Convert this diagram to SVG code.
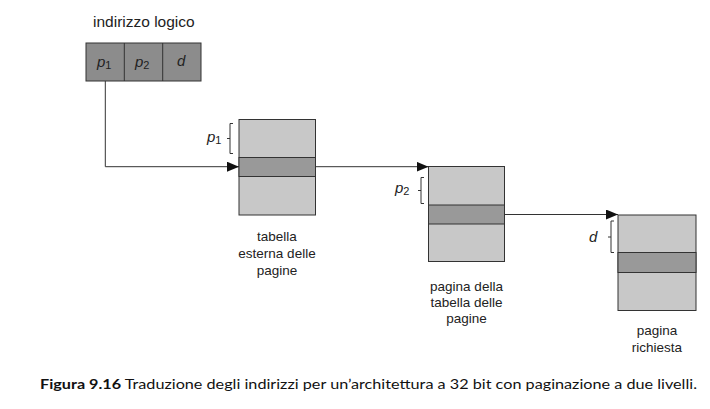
<svg xmlns="http://www.w3.org/2000/svg" width="710" height="409" viewBox="0 0 710 409">
<defs>
<style>
.lbl{font-family:"Liberation Sans",Arial,sans-serif;font-size:13.5px;fill:#222}
.it{font-family:"Liberation Sans",Arial,sans-serif;font-size:15px;font-style:italic;fill:#222}
.sub{font-size:11px;font-style:normal}
.light{fill:#c8c8c8;stroke:#333;stroke-width:1}
.band{fill:#999;stroke:#333;stroke-width:1}
.addr{fill:#8c8c8c;stroke:#333;stroke-width:1}
.ln{fill:none;stroke:#333;stroke-width:1}
.cap{font-family:"Lato","Open Sans",sans-serif;font-size:14px;fill:#111}
</style>
<marker id="ah" markerWidth="12" markerHeight="10" refX="12" refY="5" orient="auto" markerUnits="userSpaceOnUse">
<path d="M0,0 L12,5 L0,10 Z" fill="#111"/>
</marker>
</defs>
<rect width="710" height="409" fill="#fff"/>

<g id="indirizzo">
<text class="lbl" x="93" y="27" style="font-size:15.5px">indirizzo logico</text>
<rect class="addr" x="86" y="43" width="115" height="38"/>
<line class="ln" x1="124.3" y1="43" x2="124.3" y2="81"/>
<line class="ln" x1="162.7" y1="43" x2="162.7" y2="81"/>
<text class="it" x="97" y="67">p<tspan class="sub" dy="2">1</tspan></text>
<text class="it" x="135" y="67">p<tspan class="sub" dy="2">2</tspan></text>
<text class="it" x="177" y="66">d</text>
</g>

<g id="tabella-esterna">
<rect class="light" x="239" y="119.5" width="76.5" height="95.5"/>
<rect class="band" x="239" y="157.5" width="76.5" height="19"/>
<path class="ln" d="M233,123.5 H230 V153.5 H233 M230,138.5 H227"/>
<text class="it" x="207" y="142">p<tspan class="sub" dy="2">1</tspan></text>
<text class="lbl" text-anchor="middle" x="277" y="241">tabella</text>
<text class="lbl" text-anchor="middle" x="277" y="258">esterna delle</text>
<text class="lbl" text-anchor="middle" x="277" y="275">pagine</text>
</g>

<g id="pagina-tabella">
<rect class="light" x="428.5" y="166.5" width="76" height="95"/>
<rect class="band" x="428.5" y="205" width="76" height="19"/>
<path class="ln" d="M424,177.5 H421 V203.5 H424 M421,190.5 H418"/>
<text class="it" x="395" y="193">p<tspan class="sub" dy="2">2</tspan></text>
<text class="lbl" text-anchor="middle" x="466.5" y="291">pagina della</text>
<text class="lbl" text-anchor="middle" x="466.5" y="307">tabella delle</text>
<text class="lbl" text-anchor="middle" x="466.5" y="323">pagine</text>
</g>

<g id="pagina-richiesta">
<rect class="light" x="618" y="215" width="78" height="95.5"/>
<rect class="band" x="618" y="252.5" width="78" height="20"/>
<path class="ln" d="M614,221 H611 V252.5 H614 M611,237 H608"/>
<text class="it" x="589" y="242">d</text>
<text class="lbl" text-anchor="middle" x="657" y="335">pagina</text>
<text class="lbl" text-anchor="middle" x="657" y="352">richiesta</text>
</g>

<g id="connettori">
<path class="ln" d="M105.3,81 V166.7 H239" marker-end="url(#ah)"/>
<path class="ln" d="M315.5,166.7 H428.5" marker-end="url(#ah)"/>
<path class="ln" d="M504.5,214.5 H618" marker-end="url(#ah)"/>
</g>

<g id="didascalia">
<text class="cap" x="40" y="389" textLength="657" lengthAdjust="spacingAndGlyphs"><tspan font-weight="bold">Figura 9.16</tspan> Traduzione degli indirizzi per un’architettura a 32 bit con paginazione a due livelli.</text>
</g>
</svg>
